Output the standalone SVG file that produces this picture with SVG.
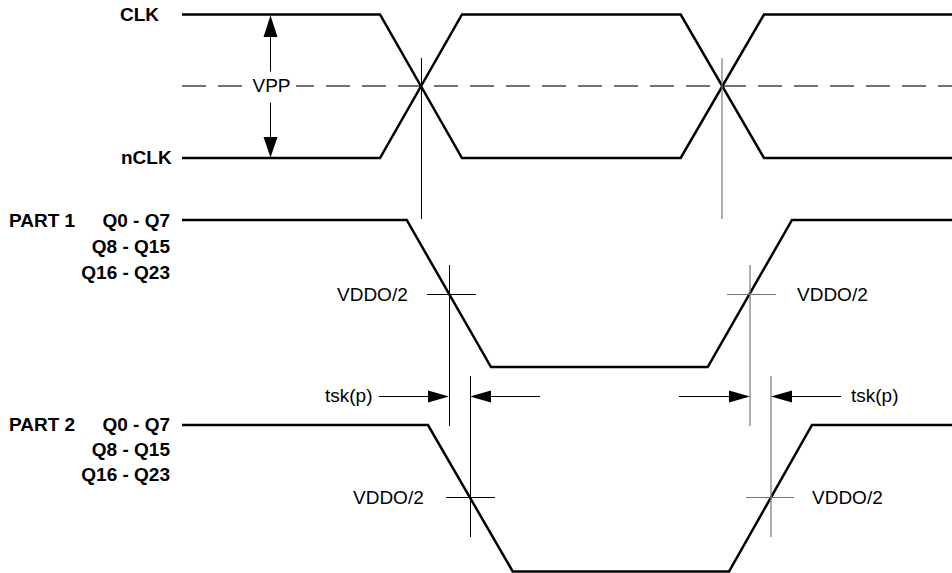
<svg xmlns="http://www.w3.org/2000/svg" width="952" height="573" viewBox="0 0 952 573">
<style>
.sig{fill:none;stroke:#000;stroke-width:2.5;stroke-linejoin:miter}
.thin{fill:none;stroke:#000;stroke-width:1}
.gray{fill:none;stroke:#777;stroke-width:1.2}
.dash{fill:none;stroke:#444;stroke-width:1.6;stroke-dasharray:24 12}
.lbl{font-family:"Liberation Sans",Arial,sans-serif;font-size:19px;font-weight:bold;fill:#000}
.txt{font-family:"Liberation Sans",Arial,sans-serif;font-size:19px;fill:#000}
.ah{fill:#000;stroke:none}
</style>
<rect width="952" height="573" fill="#fff"/>
<g id="labels">
<text class="lbl" x="120" y="21">CLK</text>
<text class="lbl" x="121" y="164">nCLK</text>
<text class="lbl" x="9" y="227">PART 1</text>
<text class="lbl" x="170" y="227" text-anchor="end">Q0 - Q7</text>
<text class="lbl" x="170" y="253" text-anchor="end">Q8 - Q15</text>
<text class="lbl" x="170" y="279" text-anchor="end">Q16 - Q23</text>
<text class="lbl" x="9" y="431">PART 2</text>
<text class="lbl" x="170" y="431" text-anchor="end">Q0 - Q7</text>
<text class="lbl" x="170" y="456" text-anchor="end">Q8 - Q15</text>
<text class="lbl" x="170" y="481" text-anchor="end">Q16 - Q23</text>
</g>
<g id="reference">
<path class="dash" d="M182 86H952"/>
<rect x="242" y="74" width="54" height="24" fill="#fff"/>
<text class="txt" x="271.5" y="92" text-anchor="middle">VPP</text>
<path class="thin" d="M270.5 35V71.5M270.5 102.5V139"/>
<polygon class="ah" points="270.5,15.5 263.5,37 277.5,37"/>
<polygon class="ah" points="270.5,157.5 263.5,137 277.5,137"/>
</g>
<g id="clk">
<path class="sig" d="M182 14.5H380L462 158H680.7L764 14.5H952"/>
</g>
<g id="nclk">
<path class="sig" d="M182 158H380L462 14.5H680.7L764 158H952"/>
</g>
<g id="part1">
<path class="sig" d="M182 220H406.7L491 367H707.7L792 220H952"/>
</g>
<g id="part2">
<path class="sig" d="M182 425H428L512.7 571.5H729L812 425H952"/>
</g>
<g id="markers">
<path class="thin" d="M421.5 58V219"/>
<path class="gray" d="M722 58V219"/>
<path class="thin" d="M449.5 265V426M427 294.5H476"/>
<path class="gray" d="M750 265V426M727 294.5H776"/>
<path class="thin" d="M470.5 376V537M446 497.5H495"/>
<path class="gray" d="M771 376V537M746 497.5H794"/>
<text class="txt" x="337" y="301">VDDO/2</text>
<text class="txt" x="797" y="301">VDDO/2</text>
<text class="txt" x="353" y="504">VDDO/2</text>
<text class="txt" x="812" y="504">VDDO/2</text>
</g>
<g id="connectors">
<path class="thin" d="M379 396.5H430M540 396.5H489"/>
<polygon class="ah" points="449,396.5 428,390.5 428,402.5"/>
<polygon class="ah" points="470,396.5 491,390.5 491,402.5"/>
<text class="txt" x="325" y="402">tsk(p)</text>
<path class="thin" d="M679 396.5H731M841 396.5H790"/>
<polygon class="ah" points="750,396.5 729,390.5 729,402.5"/>
<polygon class="ah" points="771,396.5 792,390.5 792,402.5"/>
<text class="txt" x="851" y="402">tsk(p)</text>
</g>
</svg>
